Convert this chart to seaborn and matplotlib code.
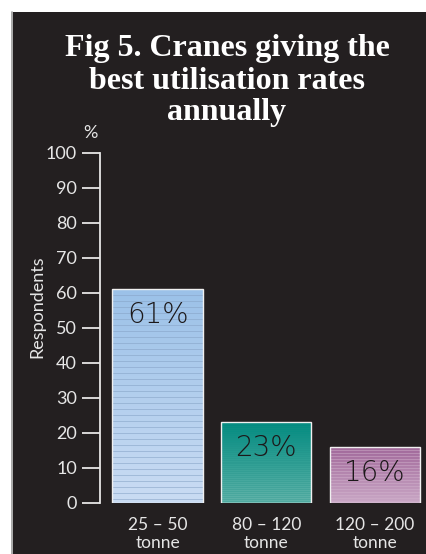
import numpy as np
import matplotlib
matplotlib.use("Agg")
import matplotlib.pyplot as plt
from matplotlib.patches import Rectangle
from matplotlib.lines import Line2D
from matplotlib.colors import to_rgb
import seaborn as sns

# ---- data ----
categories = ["25 – 50\ntonne", "80 – 120\ntonne", "120 – 200\ntonne"]
values = [61, 23, 16]
labels = ["61%", "23%", "16%"]
yticks = [0, 10, 20, 30, 40, 50, 60, 70, 80, 90, 100]
title_lines = ["Fig 5. Cranes giving the", "best utilisation rates", "annually"]

top_colors = ["#9bc1e8", "#008b80", "#a2699b"]
bottom_colors = ["#cadcf3", "#62b4aa", "#c9a7c5"]
stripe_colors = ["#86a3c6", "#1d8f86", "#d2b3cd"]
stripe_period = [6, 2, 3]
stripe_alpha = [0.55, 0.25, 0.45]

BG = "#231f20"
FG = "#e6e6e6"

sns.set_theme(style="white")
plt.rcParams["font.family"] = ["Lato", "DejaVu Sans"]

W, H = 427, 554
fig = plt.figure(figsize=(W / 100, H / 100), dpi=100, facecolor="white")
fig.patches.append(Rectangle((13 / W, 0), 1, (H - 12) / H, transform=fig.transFigure,
                             facecolor=BG, edgecolor="none", zorder=-10))
fig.lines.append(Line2D([12.5 / W, 12.5 / W], [0, (H - 12) / H], transform=fig.transFigure,
                        color="#9a9a9a", lw=1.2, zorder=-9))

ax_left, ax_bottom = 100 / W, (H - 502.7) / H
ax_h = 350 / H
ax = fig.add_axes([ax_left, ax_bottom, 1 - ax_left, ax_h])
ax.set_facecolor("none")
ax.set_zorder(1)

sns.barplot(x=categories, y=values, hue=categories, palette=top_colors, legend=False,
            width=0.83, edgecolor="#f0f0f0", linewidth=1.0, ax=ax, zorder=3)

px_per_unit = ax_h * H / 100.0
for i, p in enumerate(ax.patches):
    x0, w, h = p.get_x(), p.get_width(), p.get_height()
    n = max(int(round(h * px_per_unit)), 2)
    t = np.linspace(0, 1, n)[:, None]
    c0, c1 = np.array(to_rgb(top_colors[i])), np.array(to_rgb(bottom_colors[i]))
    img = c0 * (1 - t) + c1 * t
    sc = np.array(to_rgb(stripe_colors[i]))
    rows = np.arange(n) % stripe_period[i] == 0
    img[rows] = img[rows] * (1 - stripe_alpha[i]) + sc * stripe_alpha[i]
    img = img[:, None, :]
    ax.imshow(img, extent=[x0, x0 + w, 0, h], aspect="auto", interpolation="nearest",
              zorder=2)
    p.set_facecolor("none")
    p.set_zorder(3)
    ax.text(x0 + w / 2, h - 26 / px_per_unit, labels[i], ha="center", va="center",
            fontsize=20, fontweight="light", color="#1c1819", family=["DejaVu Sans"],
            zorder=4)

ax.set_xlim(-0.53, 2.48)
ax.set_ylim(0, 100)
ax.set_yticks(yticks)
ax.tick_params(axis="y", direction="out", length=13, width=1.3, color=FG,
               labelcolor=FG, labelsize=13, pad=3.5, left=True)
ax.tick_params(axis="x", length=0, labelcolor=FG, labelsize=12.5, pad=10.5)
for lab in ax.get_xticklabels():
    lab.set_linespacing(1.1)
for s in ["top", "right", "bottom"]:
    ax.spines[s].set_visible(False)
ax.spines["left"].set_color(FG)
ax.spines["left"].set_linewidth(1.3)
ax.set_xlabel("")
ax.set_ylabel("")

for k, (line, base) in enumerate(zip(title_lines, [56, 89, 120])):
    fig.text(227 / W, 1 - base / H, line, ha="center", va="baseline", color="white",
             fontsize=23, fontweight="bold",
             family=["Liberation Serif", "DejaVu Serif"])
fig.text(90 / W, 1 - 133 / H, "%", ha="center", va="center", color=FG, fontsize=13)
fig.text(37 / W, 1 - 307 / H, "Respondents", ha="center", va="center", color=FG,
         fontsize=13, rotation=90)

fig.savefig("out.png", dpi=100, facecolor="white")
